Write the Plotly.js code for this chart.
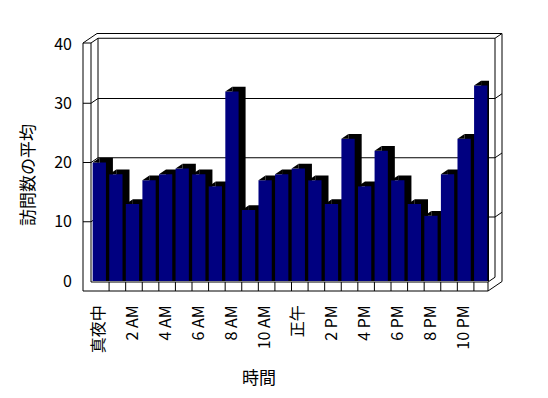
<!DOCTYPE html>
<html>
<head>
<meta charset="utf-8">
<script src="https://cdn.plot.ly/plotly-3.0.1.min.js"></script>
<style>html,body{margin:0;padding:0;background:#fff;}#chart{width:548px;height:398px;}</style>
</head>
<body>
<div id="chart"></div>
<script>
// ---- data ----
const hours = ['真夜中','1 AM','2 AM','3 AM','4 AM','5 AM','6 AM','7 AM','8 AM','9 AM','10 AM','11 AM',
               '正午','1 PM','2 PM','3 PM','4 PM','5 PM','6 PM','7 PM','8 PM','9 PM','10 PM','11 PM'];
const visits = [20,18,13,17,18,19,18,16,32,12,17,18,19,17,13,24,16,22,17,13,11,18,24,33];
const yTicks = [0,10,20,30,40];
const xTitle = '時間';
const yTitle = '訪問数の平均';

// ---- geometry ----
const W = 548, H = 398;
const M = {l: 91, r: 59, t: 44, b: 117};
const PW = W - M.l - M.r, PH = H - M.t - M.b;
const YMAX = 40;
const pxPerCat = PW / hours.length;
const pxPerY = PH / YMAX;
const DX = 7, DY = 4.75;               // 3D depth vector in pixels
const dxData = DX / pxPerCat, dyData = DY / pxPerY;
const BW = 0.8;

const idx = hours.map((_, i) => i);
const fx = px => (px - M.l) / PW;       // pixel -> paper
const fy = py => (H - M.b - py) / PH;
const yPix = v => H - M.b - v * pxPerY;

const FONT = '"Noto Sans CJK JP", "Noto Sans", sans-serif';
const LINE = {color: '#000', width: 1};
const shapes = [];
function seg(x0, y0, x1, y1, layer) {
  shapes.push({type: 'line', xref: 'paper', yref: 'paper', x0: fx(x0), y0: fy(y0), x1: fx(x1), y1: fy(y1),
               line: LINE, layer: layer || 'above'});
}

const L0 = M.l - 8;            // left wall outer
const L1 = M.l;                // left wall inner front
const L2 = L1 + DX;            // back wall inner left
const R0 = M.l + PW - 1;       // floor front right
const R1 = R0 + DX, R2 = R0 + 2 * DX;
const top0 = yPix(YMAX) - 1;
const floorTop = yPix(0) + 1, floorBot = floorTop + 9;

// gridlines (behind bars)
yTicks.filter(v => v > 0 && v < YMAX).forEach(v => {
  const y = yPix(v);
  seg(L0, y, L1, y, 'above');
  seg(L1, y, L2, y - DY, 'below');
  seg(L2, y - DY, R1, y - DY, 'below');
  seg(R1, y - DY, R2, y - 2 * DY, 'above');
});
// back wall inner left vertical (behind bars)
seg(L2, top0 - DY, L2, floorTop - DY, 'below');

// left wall
seg(L0, top0, L0, floorBot);
seg(L1, top0, L1, floorTop);
seg(L0, top0, L1, top0);
seg(L0, top0, L0 + 2 * DX, top0 - 2 * DY);
seg(L1, top0, L2, top0 - DY);
// back wall
seg(L2, top0 - DY, R1, top0 - DY);
seg(L0 + 2 * DX, top0 - 2 * DY, R2, top0 - 2 * DY);
seg(R1, top0 - DY, R2, top0 - 2 * DY);
seg(R1, top0 - DY, R1, floorTop - DY);
seg(R2, top0 - 2 * DY, R2, floorBot - 2 * DY);
// floor
seg(L1, floorTop, R0, floorTop);
seg(L0, floorBot, R0, floorBot);
seg(R0, floorTop, R0, floorBot);
seg(R0, floorBot, R2, floorBot - 2 * DY);
seg(R0, floorTop, R1, floorTop - DY);
for (let k = 1; k < hours.length; k++) {
  const x = M.l + k * pxPerCat + 1.5;
  seg(x, floorTop, x, floorBot);
}

// top-left triangles of the bar top faces
const triX = [], triY = [];
visits.forEach((v, i) => {
  const l = i - BW / 2;
  triX.push(l, l + dxData, l + dxData, l, null);
  triY.push(v, v + dyData, v, v, null);
});

const traces = [
  {type: 'bar', x: idx, y: visits.map(v => v + dyData), width: BW, offset: -BW / 2 + dxData,
   marker: {color: '#000000', line: {width: 0}}, hoverinfo: 'skip', showlegend: false},
  {type: 'bar', x: idx, y: visits, width: BW, name: yTitle,
   marker: {color: '#000080', line: {width: 0}}, showlegend: false},
  {type: 'scatter', x: triX, y: triY, mode: 'lines', fill: 'toself', fillcolor: '#000000',
   line: {color: '#000000', width: 0}, hoverinfo: 'skip', showlegend: false}
];

const evenIdx = idx.filter(i => i % 2 === 0);
const layout = {
  width: W, height: H, margin: M,
  paper_bgcolor: '#ffffff', plot_bgcolor: 'rgba(0,0,0,0)',
  barmode: 'overlay', showlegend: false,
  font: {family: FONT, size: 16, color: '#000'},
  xaxis: {range: [-0.5, hours.length - 0.5], tickmode: 'array', tickvals: evenIdx,
          ticktext: evenIdx.map(i => hours[i]), tickangle: -90, ticks: '', showgrid: false,
          zeroline: false, showline: false, ticklabelstandoff: 20, fixedrange: true,
          tickfont: {family: FONT, size: 16, color: '#000'}},
  yaxis: {range: [0, YMAX], tickmode: 'array', tickvals: yTicks, ticks: '', showgrid: false,
          zeroline: false, showline: false, ticklabelstandoff: 18, fixedrange: true,
          tickfont: {family: FONT, size: 16, color: '#000'}},
  shapes: shapes,
  annotations: [
    {text: xTitle, xref: 'paper', yref: 'paper', x: fx(259), y: fy(376), xanchor: 'center', yanchor: 'middle',
     showarrow: false, font: {family: FONT, size: 17, color: '#000'}},
    {text: yTitle, xref: 'paper', yref: 'paper', x: fx(26), y: fy(175), xanchor: 'center', yanchor: 'middle',
     textangle: -90, showarrow: false, font: {family: FONT, size: 17, color: '#000'}}
  ]
};

Plotly.newPlot('chart', traces, layout, {staticPlot: true, displayModeBar: false});
</script>
</body>
</html>
